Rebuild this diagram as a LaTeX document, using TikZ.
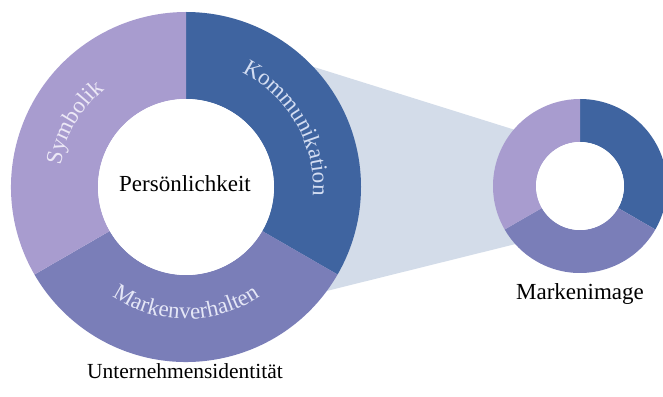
\documentclass[tikz,border=0pt]{standalone}
\usepackage{fontspec}
\setmainfont{Liberation Serif}
\usetikzlibrary{decorations.text}
\definecolor{komcol}{HTML}{3F64A0}
\definecolor{symcol}{HTML}{A89CCF}
\definecolor{mvcol}{HTML}{7A7EB8}
\definecolor{bandcol}{HTML}{D3DCE9}
\definecolor{komtext}{HTML}{D3DDF2}
\definecolor{symtext}{HTML}{ECE8F6}
\definecolor{mvtext}{HTML}{E4E6F6}
\newcommand\curvefont{\fontsize{23}{23}\selectfont}
\tikzset{
  lbl/.style={font=\fontsize{23}{23}\selectfont, text=black, inner sep=0pt, anchor=base},
  arclbl/.style 2 args={decorate, decoration={text along path, text align=center,
     text color=#2, text={|\curvefont|#1}}}
}
\begin{document}
\begin{tikzpicture}[x=1pt,y=1pt]
\useasboundingbox (0,0) rectangle (663,396);
\clip (0,0) rectangle (663,396);
\coordinate (B) at (186,209);
\coordinate (S) at (580,210);
% band between the two donuts
\fill[bandcol] (250,349) -- (560,252) -- (560,163) -- (250,86) -- cycle;
% big donut
\begin{scope}[shift={(B)}]
  \fill[komcol] (90:175) arc[start angle=90,end angle=-30,radius=175] -- (-30:88) arc[start angle=-30,end angle=90,radius=88] -- cycle;
  \fill[mvcol] (-30:175) arc[start angle=-30,end angle=-150,radius=175] -- (-150:88) arc[start angle=-150,end angle=-30,radius=88] -- cycle;
  \fill[symcol] (210:175) arc[start angle=210,end angle=90,radius=175] -- (90:88) arc[start angle=90,end angle=210,radius=88] -- cycle;
  \fill[white] (0,0) circle[radius=88];
  \path[arclbl={Kommunikation}{komtext}] (90:127) arc[start angle=90,end angle=-30,radius=127];
  \path[arclbl={Symbolik}{symtext}] (210:127) arc[start angle=210,end angle=90,radius=127];
  \path[arclbl={Markenverhalten}{mvtext}] (210:132) arc[start angle=210,end angle=330,radius=132];
\end{scope}
% small donut
\begin{scope}[shift={(S)}]
  \fill[komcol] (90:87) arc[start angle=90,end angle=-30,radius=87] -- (-30:44) arc[start angle=-30,end angle=90,radius=44] -- cycle;
  \fill[mvcol] (-30:87) arc[start angle=-30,end angle=-150,radius=87] -- (-150:44) arc[start angle=-150,end angle=-30,radius=44] -- cycle;
  \fill[symcol] (210:87) arc[start angle=210,end angle=90,radius=87] -- (90:44) arc[start angle=90,end angle=210,radius=44] -- cycle;
  \fill[white] (0,0) circle[radius=44];
\end{scope}
\node[lbl] (pers) at (185,204) {Persönlichkeit};
\node[lbl, font=\fontsize{21.5}{21.5}\selectfont] (uid) at (185,18) {Unternehmensidentität};
\node[lbl] (mimg) at (580,96) {Markenimage};
\end{tikzpicture}
\end{document}
